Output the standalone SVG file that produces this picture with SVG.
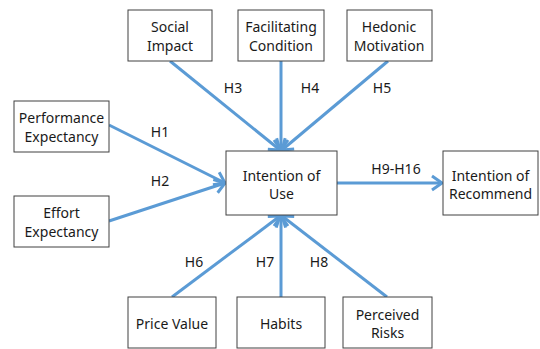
<svg xmlns="http://www.w3.org/2000/svg" width="540" height="349" viewBox="0 0 540 349">
  <style>
    .box rect { fill: #ffffff; stroke: #404040; stroke-width: 1; }
    text { font-family: "Noto Sans", "Noto Sans CJK KR", sans-serif; font-size: 14px; fill: #1a1a1a; text-anchor: middle; dominant-baseline: central; }
    .link { stroke: #5b9bd5; stroke-width: 3; fill: none; marker-end: url(#arrow); }
  </style>
  <defs>
    <marker id="arrow" markerUnits="userSpaceOnUse" markerWidth="14" markerHeight="18" refX="11" refY="9" orient="auto" overflow="visible">
      <path d="M1,2 L11,9 L1,16" fill="none" stroke="#5b9bd5" stroke-width="3" stroke-linejoin="miter"/>
    </marker>
  </defs>

  <!-- connectors -->
  <g id="connectors">
    <line class="link" x1="170" y1="61" x2="280" y2="150"/>
    <line class="link" x1="281" y1="61" x2="281" y2="150"/>
    <line class="link" x1="388" y1="61" x2="282" y2="150"/>
    <line class="link" x1="109" y1="125" x2="225" y2="183"/>
    <line class="link" x1="109" y1="221" x2="225" y2="183"/>
    <line class="link" x1="172" y1="297" x2="280" y2="216"/>
    <line class="link" x1="281" y1="297" x2="281" y2="216"/>
    <line class="link" x1="387" y1="297" x2="282" y2="216"/>
    <line class="link" x1="337" y1="183" x2="442" y2="183"/>
    <text x="160" y="131">H1</text>
    <text x="160" y="180">H2</text>
    <text x="233" y="87">H3</text>
    <text x="310" y="87">H4</text>
    <text x="382" y="87">H5</text>
    <text x="194" y="261">H6</text>
    <text x="265" y="261">H7</text>
    <text x="319" y="261">H8</text>
    <text x="396" y="168">H9-H16</text>
  </g>

  <g id="social-impact" class="box">
    <rect x="128" y="10" width="84" height="51"/>
    <text x="170" y="26">Social</text>
    <text x="170" y="45">Impact</text>
  </g>
  <g id="facilitating-condition" class="box">
    <rect x="238" y="10" width="86" height="51"/>
    <text x="281" y="26">Facilitating</text>
    <text x="281" y="45">Condition</text>
  </g>
  <g id="hedonic-motivation" class="box">
    <rect x="347" y="10" width="85" height="51"/>
    <text x="389" y="26">Hedonic</text>
    <text x="389" y="45">Motivation</text>
  </g>
  <g id="performance-expectancy" class="box">
    <rect x="14" y="101" width="95" height="51"/>
    <text x="61.5" y="117">Performance</text>
    <text x="61.5" y="136">Expectancy</text>
  </g>
  <g id="effort-expectancy" class="box">
    <rect x="14" y="196" width="95" height="51"/>
    <text x="61.5" y="212">Effort</text>
    <text x="61.5" y="231">Expectancy</text>
  </g>
  <g id="intention-of-use" class="box">
    <rect x="226" y="151" width="111" height="64"/>
    <text x="281.5" y="175">Intention of</text>
    <text x="281.5" y="193">Use</text>
  </g>
  <g id="intention-of-recommend" class="box">
    <rect x="443" y="151" width="95" height="64"/>
    <text x="490.5" y="175">Intention of</text>
    <text x="490.5" y="193">Recommend</text>
  </g>
  <g id="price-value" class="box">
    <rect x="128" y="297" width="88" height="51"/>
    <text x="172" y="323">Price Value</text>
  </g>
  <g id="habits" class="box">
    <rect x="237" y="297" width="88" height="51"/>
    <text x="281" y="323">Habits</text>
  </g>
  <g id="perceived-risks" class="box">
    <rect x="343" y="297" width="89" height="51"/>
    <text x="387.5" y="314">Perceived</text>
    <text x="387.5" y="332">Risks</text>
  </g>
</svg>
